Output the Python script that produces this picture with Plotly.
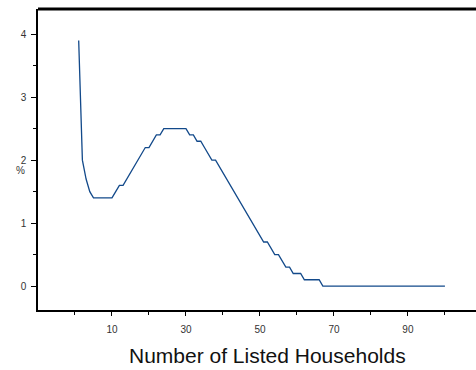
import plotly.graph_objects as go

households = list(range(1, 101))
percent = [3.9, 2.0, 1.7, 1.5, 1.4, 1.4, 1.4, 1.4, 1.4, 1.4,
           1.5, 1.6, 1.6, 1.7, 1.8, 1.9, 2.0, 2.1, 2.2, 2.2,
           2.3, 2.4, 2.4, 2.5, 2.5, 2.5, 2.5, 2.5, 2.5, 2.5,
           2.4, 2.4, 2.3, 2.3, 2.2, 2.1, 2.0, 2.0, 1.9, 1.8,
           1.7, 1.6, 1.5, 1.4, 1.3, 1.2, 1.1, 1.0, 0.9, 0.8,
           0.7, 0.7, 0.6, 0.5, 0.5, 0.4, 0.3, 0.3, 0.2, 0.2,
           0.2, 0.1, 0.1, 0.1, 0.1, 0.1] + [0.0] * 34

x_ticks = [10, 30, 50, 70, 90]
x_minor = [0, 20, 40, 60, 80, 100]
y_ticks = [0, 1, 2, 3, 4]
y_minor = [0.5, 1.5, 2.5, 3.5]

fig = go.Figure()
fig.add_trace(go.Scatter(x=households, y=percent, mode="lines",
                         line=dict(color="#12498a", width=1.3),
                         showlegend=False, hoverinfo="skip"))

fig.update_layout(
    width=476, height=370,
    margin=dict(l=38, r=0, t=9, b=60, autoexpand=False),
    paper_bgcolor="white", plot_bgcolor="white",
    font=dict(family="Liberation Sans, Arial, sans-serif", color="#333333", size=10),
    xaxis=dict(range=[-10, 108.4], tickvals=x_ticks, ticks="outside", ticklen=4,
               tickcolor="black", tickwidth=1, showgrid=False, zeroline=False,
               showline=True, linecolor="black", linewidth=1.5,
               ticklabelstandoff=5, automargin=False,
               tickfont=dict(size=10, color="#333333"),
               minor=dict(tickvals=x_minor, ticks="outside", ticklen=3,
                          tickcolor="black", showgrid=False)),
    yaxis=dict(range=[-0.38, 4.4], tickvals=y_ticks, ticks="outside", ticklen=5,
               tickcolor="black", tickwidth=1, showgrid=False, zeroline=False,
               showline=True, linecolor="black", linewidth=1.5,
               ticklabelstandoff=3, automargin=False,
               tickfont=dict(size=10, color="#333333"),
               minor=dict(tickvals=y_minor, ticks="outside", ticklen=3,
                          tickcolor="black", showgrid=False)),
)

fig.add_shape(type="line", xref="paper", yref="paper", x0=0, x1=1, y0=1, y1=1,
              line=dict(color="black", width=3))

fig.add_annotation(text="Number of Listed Households", xref="paper", yref="paper",
                   x=0.525, y=0, yshift=-45, yanchor="middle", showarrow=False,
                   font=dict(size=21, color="#111111"))
fig.add_annotation(text="%", xref="paper", yref="paper",
                   x=0, xshift=-24, y=0.465, yanchor="middle",
                   showarrow=False, font=dict(size=10, color="#333333"))

fig.write_html(
    "out.html",
    config={"displayModeBar": False},
    post_script="document.body.style.margin='0';document.body.style.overflow='hidden';",
)
